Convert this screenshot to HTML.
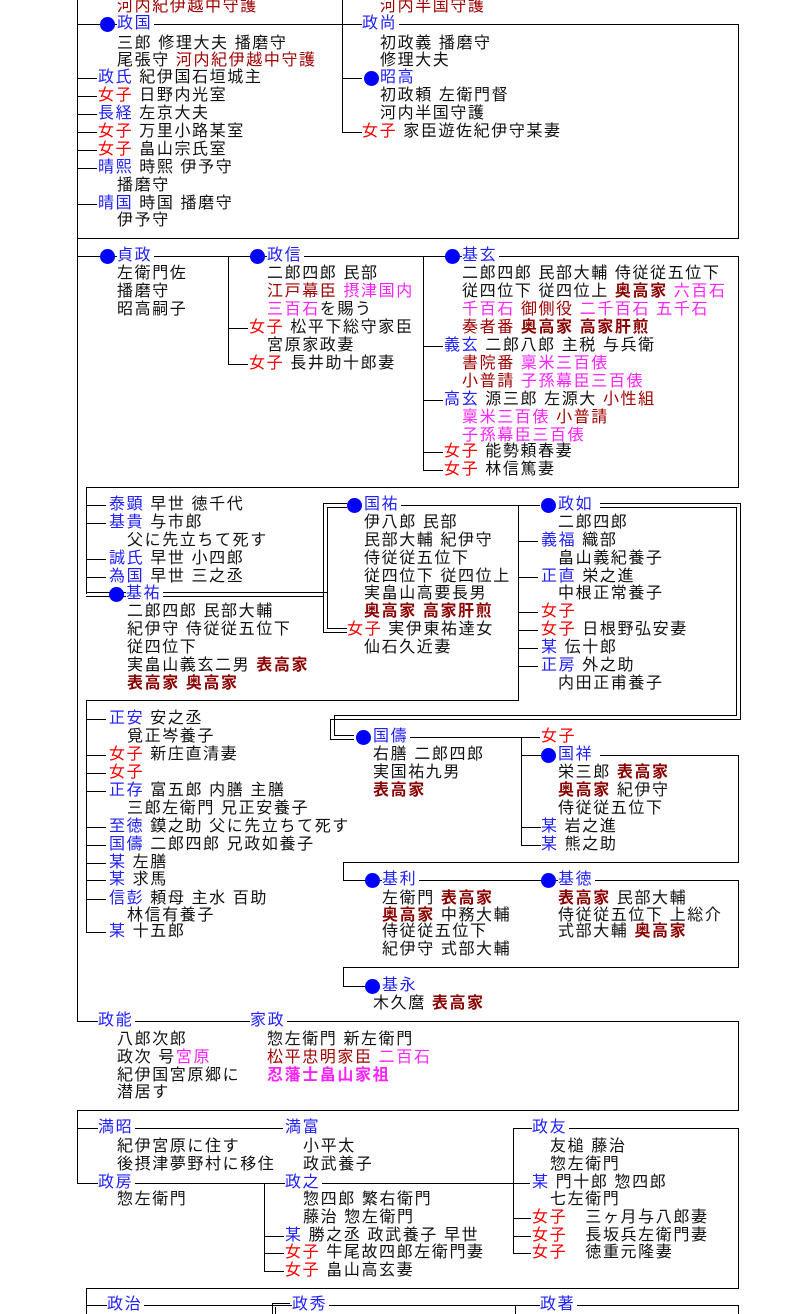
<!DOCTYPE html>
<html><head><meta charset="utf-8"><style>
body{margin:0;width:794px;height:1314px;background:#fff;position:relative;overflow:hidden;font-family:"Liberation Sans","Noto Sans CJK JP",sans-serif;}
.t{position:absolute;white-space:pre;font-size:16px;line-height:18px;height:18px;background:#fff;color:#111;letter-spacing:1.6px;padding-right:2px}
.h{position:absolute;height:1px;background:#000}
.v{position:absolute;width:1px;background:#000}
.o{position:absolute;width:15px;height:15px;border-radius:50%;background:#0000ff}
.b{color:#2020ff}.r{color:#ff0000}.d{color:#a00000}.m{color:#ff22ff}.k{color:#8b0000;font-weight:bold}.km{color:#ff22ff;font-weight:bold}
</style></head><body>
<!-- lines section1 -->
<div class="v" style="left:77px;top:0;height:1021px"></div>
<div class="h" style="left:77px;top:24px;width:661px"></div>
<div class="h" style="left:77px;top:78px;width:20px"></div>
<div class="h" style="left:77px;top:96px;width:20px"></div>
<div class="h" style="left:77px;top:114px;width:20px"></div>
<div class="h" style="left:77px;top:132px;width:20px"></div>
<div class="h" style="left:77px;top:150px;width:20px"></div>
<div class="h" style="left:77px;top:168px;width:20px"></div>
<div class="h" style="left:77px;top:204px;width:20px"></div>
<div class="v" style="left:342px;top:0;height:132px"></div>
<div class="h" style="left:342px;top:78px;width:20px"></div>
<div class="h" style="left:342px;top:132px;width:20px"></div>
<div class="v" style="left:738px;top:24px;height:214px"></div>
<div class="h" style="left:77px;top:238px;width:662px"></div>
<!-- section2 -->
<div class="h" style="left:77px;top:256px;width:661px"></div>
<div class="v" style="left:228px;top:256px;height:108px"></div>
<div class="h" style="left:228px;top:328px;width:20px"></div>
<div class="h" style="left:228px;top:364px;width:20px"></div>
<div class="v" style="left:423px;top:256px;height:214px"></div>
<div class="h" style="left:423px;top:346px;width:20px"></div>
<div class="h" style="left:423px;top:400px;width:20px"></div>
<div class="h" style="left:423px;top:452px;width:20px"></div>
<div class="h" style="left:423px;top:470px;width:20px"></div>
<div class="v" style="left:738px;top:256px;height:231px"></div>
<div class="h" style="left:86px;top:487px;width:653px"></div>
<!-- section3 -->
<div class="v" style="left:86px;top:487px;height:107px"></div>
<div class="h" style="left:86px;top:505px;width:20px"></div>
<div class="h" style="left:86px;top:523px;width:20px"></div>
<div class="h" style="left:86px;top:559px;width:20px"></div>
<div class="h" style="left:86px;top:577px;width:20px"></div>
<div class="h" style="left:86px;top:592px;width:241px"></div>
<div class="h" style="left:86px;top:596px;width:237px"></div>
<div class="v" style="left:323px;top:503px;height:130px"></div>
<div class="v" style="left:327px;top:507px;height:122px"></div>
<div class="h" style="left:323px;top:503px;width:24px"></div>
<div class="h" style="left:327px;top:507px;width:20px"></div>
<div class="h" style="left:327px;top:628px;width:20px"></div>
<div class="h" style="left:323px;top:632px;width:24px"></div>
<div class="h" style="left:400px;top:505px;width:140px"></div>
<div class="v" style="left:518px;top:505px;height:195px"></div>
<div class="h" style="left:86px;top:700px;width:433px"></div>
<div class="h" style="left:518px;top:541px;width:20px"></div>
<div class="h" style="left:518px;top:577px;width:20px"></div>
<div class="h" style="left:518px;top:612px;width:20px"></div>
<div class="h" style="left:518px;top:630px;width:20px"></div>
<div class="h" style="left:518px;top:648px;width:20px"></div>
<div class="h" style="left:518px;top:666px;width:20px"></div>
<div class="h" style="left:600px;top:503px;width:141px"></div>
<div class="h" style="left:600px;top:507px;width:137px"></div>
<div class="v" style="left:740px;top:503px;height:217px"></div>
<div class="v" style="left:736px;top:507px;height:209px"></div>
<div class="h" style="left:330px;top:719px;width:411px"></div>
<div class="h" style="left:334px;top:715px;width:403px"></div>
<div class="v" style="left:330px;top:719px;height:21px"></div>
<div class="v" style="left:334px;top:715px;height:21px"></div>
<div class="h" style="left:334px;top:735px;width:20px"></div>
<div class="h" style="left:330px;top:739px;width:24px"></div>
<!-- section4 -->
<div class="v" style="left:86px;top:700px;height:232px"></div>
<div class="h" style="left:86px;top:719px;width:20px"></div>
<div class="h" style="left:86px;top:755px;width:20px"></div>
<div class="h" style="left:86px;top:773px;width:20px"></div>
<div class="h" style="left:86px;top:791px;width:20px"></div>
<div class="h" style="left:86px;top:827px;width:20px"></div>
<div class="h" style="left:86px;top:845px;width:20px"></div>
<div class="h" style="left:86px;top:863px;width:20px"></div>
<div class="h" style="left:86px;top:880px;width:20px"></div>
<div class="h" style="left:86px;top:899px;width:20px"></div>
<div class="h" style="left:86px;top:932px;width:20px"></div>
<div class="h" style="left:405px;top:737px;width:135px"></div>
<div class="v" style="left:521px;top:737px;height:108px"></div>
<div class="h" style="left:521px;top:755px;width:20px"></div>
<div class="h" style="left:521px;top:827px;width:20px"></div>
<div class="h" style="left:521px;top:845px;width:20px"></div>
<div class="h" style="left:600px;top:755px;width:138px"></div>
<div class="v" style="left:738px;top:755px;height:107px"></div>
<div class="h" style="left:343px;top:862px;width:396px"></div>
<div class="v" style="left:343px;top:862px;height:18px"></div>
<div class="h" style="left:343px;top:880px;width:395px"></div>
<div class="v" style="left:738px;top:880px;height:87px"></div>
<div class="h" style="left:343px;top:967px;width:396px"></div>
<div class="v" style="left:343px;top:967px;height:19px"></div>
<div class="h" style="left:343px;top:986px;width:22px"></div>
<!-- section5 -->
<div class="h" style="left:77px;top:1021px;width:661px"></div>
<div class="v" style="left:738px;top:1021px;height:89px"></div>
<div class="h" style="left:77px;top:1110px;width:662px"></div>
<!-- section6 -->
<div class="v" style="left:77px;top:1110px;height:73px"></div>
<div class="h" style="left:77px;top:1128px;width:206px"></div>
<div class="h" style="left:77px;top:1183px;width:453px"></div>
<div class="v" style="left:264px;top:1183px;height:88px"></div>
<div class="h" style="left:264px;top:1236px;width:20px"></div>
<div class="h" style="left:264px;top:1253px;width:20px"></div>
<div class="h" style="left:264px;top:1271px;width:20px"></div>
<div class="v" style="left:513px;top:1128px;height:125px"></div>
<div class="h" style="left:513px;top:1128px;width:225px"></div>
<div class="h" style="left:513px;top:1218px;width:18px"></div>
<div class="h" style="left:513px;top:1236px;width:18px"></div>
<div class="h" style="left:513px;top:1253px;width:18px"></div>
<div class="v" style="left:738px;top:1128px;height:160px"></div>
<div class="h" style="left:86px;top:1288px;width:653px"></div>
<div class="v" style="left:86px;top:1288px;height:26px"></div>
<div class="h" style="left:86px;top:1305px;width:652px"></div>
<div class="h" style="left:272px;top:1303px;width:18px"></div>
<div class="v" style="left:272px;top:1303px;height:11px"></div>
<div class="v" style="left:275px;top:1307px;height:7px"></div>
<div class="v" style="left:515px;top:1305px;height:9px"></div>
<div class="v" style="left:738px;top:1305px;height:9px"></div>

<!-- dots -->
<div class="o" style="left:100px;top:17px"></div>
<div class="o" style="left:364px;top:71px"></div>
<div class="o" style="left:100px;top:249px"></div>
<div class="o" style="left:250px;top:249px"></div>
<div class="o" style="left:445px;top:249px"></div>
<div class="o" style="left:347px;top:498px"></div>
<div class="o" style="left:541px;top:498px"></div>
<div class="o" style="left:109px;top:587px"></div>
<div class="o" style="left:356px;top:730px"></div>
<div class="o" style="left:541px;top:748px"></div>
<div class="o" style="left:365px;top:873px"></div>
<div class="o" style="left:541px;top:873px"></div>
<div class="o" style="left:365px;top:979px"></div>

<!-- section1 text -->
<div class="t d" style="left:117px;top:-2px">河内紀伊越中守護</div>
<div class="t d" style="left:380px;top:-2px">河内半国守護</div>
<div class="t b" style="left:117px;top:15px">政国</div>
<div class="t b" style="left:362px;top:15px">政尚</div>
<div class="t" style="left:117px;top:35px">三郎 修理大夫 播磨守</div>
<div class="t" style="left:380px;top:35px">初政義 播磨守</div>
<div class="t" style="left:117px;top:52px">尾張守 <span class="d">河内紀伊越中守護</span></div>
<div class="t" style="left:380px;top:52px">修理大夫</div>
<div class="t" style="left:98px;top:69px"><span class="b">政氏</span> 紀伊国石垣城主</div>
<div class="t b" style="left:380px;top:69px">昭高</div>
<div class="t" style="left:98px;top:87px"><span class="r">女子</span> 日野内光室</div>
<div class="t" style="left:380px;top:87px">初政頼 左衛門督</div>
<div class="t" style="left:98px;top:105px"><span class="b">長経</span> 左京大夫</div>
<div class="t" style="left:380px;top:105px">河内半国守護</div>
<div class="t" style="left:98px;top:123px"><span class="r">女子</span> 万里小路某室</div>
<div class="t" style="left:362px;top:123px"><span class="r">女子</span> 家臣遊佐紀伊守某妻</div>
<div class="t" style="left:98px;top:141px"><span class="r">女子</span> 畠山宗氏室</div>
<div class="t" style="left:98px;top:159px"><span class="b">晴熙</span> 時熙 伊予守</div>
<div class="t" style="left:117px;top:177px">播磨守</div>
<div class="t" style="left:98px;top:195px"><span class="b">晴国</span> 時国 播磨守</div>
<div class="t" style="left:117px;top:212px">伊予守</div>

<!-- section2 text -->
<div class="t b" style="left:117px;top:247px">貞政</div>
<div class="t b" style="left:267px;top:247px">政信</div>
<div class="t b" style="left:462px;top:247px">基玄</div>
<div class="t" style="left:117px;top:265px">左衛門佐</div>
<div class="t" style="left:267px;top:265px">二郎四郎 民部</div>
<div class="t" style="left:462px;top:265px">二郎四郎 民部大輔 侍従従五位下</div>
<div class="t" style="left:117px;top:283px">播磨守</div>
<div class="t" style="left:267px;top:283px"><span class="d">江戸幕臣</span> <span class="m">摂津国内</span></div>
<div class="t" style="left:462px;top:283px">従四位下 従四位上 <span class="k">奥高家</span> <span class="m">六百石</span></div>
<div class="t" style="left:117px;top:301px">昭高嗣子</div>
<div class="t" style="left:267px;top:301px"><span class="m">三百石</span>を賜う</div>
<div class="t" style="left:462px;top:301px"><span class="m">千百石</span> <span class="d">御側役</span> <span class="m">二千百石 五千石</span></div>
<div class="t" style="left:249px;top:319px"><span class="r">女子</span> 松平下総守家臣</div>
<div class="t" style="left:462px;top:319px"><span class="d">奏者番</span> <span class="k">奥高家 高家肝煎</span></div>
<div class="t" style="left:267px;top:337px">宮原家政妻</div>
<div class="t" style="left:444px;top:337px"><span class="b">義玄</span> 二郎八郎 主税 与兵衛</div>
<div class="t" style="left:249px;top:355px"><span class="r">女子</span> 長井助十郎妻</div>
<div class="t" style="left:462px;top:355px"><span class="d">書院番</span> <span class="m">稟米三百俵</span></div>
<div class="t" style="left:462px;top:373px"><span class="d">小普請</span> <span class="m">子孫幕臣三百俵</span></div>
<div class="t" style="left:444px;top:391px"><span class="b">高玄</span> 源三郎 左源大 <span class="d">小性組</span></div>
<div class="t" style="left:462px;top:409px"><span class="m">稟米三百俵</span> <span class="d">小普請</span></div>
<div class="t m" style="left:462px;top:427px">子孫幕臣三百俵</div>
<div class="t" style="left:444px;top:443px"><span class="r">女子</span> 能勢頼春妻</div>
<div class="t" style="left:444px;top:461px"><span class="r">女子</span> 林信篤妻</div>

<!-- section3 text -->
<div class="t" style="left:109px;top:496px"><span class="b">泰顕</span> 早世 徳千代</div>
<div class="t b" style="left:364px;top:496px">国祐</div>
<div class="t b" style="left:558px;top:496px">政如</div>
<div class="t" style="left:109px;top:514px"><span class="b">基貴</span> 与市郎</div>
<div class="t" style="left:364px;top:514px">伊八郎 民部</div>
<div class="t" style="left:558px;top:514px">二郎四郎</div>
<div class="t" style="left:127px;top:532px">父に先立ちて死す</div>
<div class="t" style="left:364px;top:532px">民部大輔 紀伊守</div>
<div class="t" style="left:541px;top:532px"><span class="b">義福</span> 織部</div>
<div class="t" style="left:109px;top:550px"><span class="b">誠氏</span> 早世 小四郎</div>
<div class="t" style="left:364px;top:550px">侍従従五位下</div>
<div class="t" style="left:558px;top:550px">畠山義紀養子</div>
<div class="t" style="left:109px;top:568px"><span class="b">為国</span> 早世 三之丞</div>
<div class="t" style="left:364px;top:568px">従四位下 従四位上</div>
<div class="t" style="left:541px;top:568px"><span class="b">正直</span> 栄之進</div>
<div class="t b" style="left:126px;top:585px">基祐</div>
<div class="t" style="left:364px;top:585px">実畠山高要長男</div>
<div class="t" style="left:558px;top:585px">中根正常養子</div>
<div class="t" style="left:127px;top:603px">二郎四郎 民部大輔</div>
<div class="t k" style="left:364px;top:603px">奥高家 高家肝煎</div>
<div class="t r" style="left:541px;top:603px">女子</div>
<div class="t" style="left:127px;top:621px">紀伊守 侍従従五位下</div>
<div class="t" style="left:347px;top:621px"><span class="r">女子</span> 実伊東祐達女</div>
<div class="t" style="left:541px;top:621px"><span class="r">女子</span> 日根野弘安妻</div>
<div class="t" style="left:127px;top:639px">従四位下</div>
<div class="t" style="left:364px;top:639px">仙石久近妻</div>
<div class="t" style="left:541px;top:639px"><span class="b">某</span> 伝十郎</div>
<div class="t" style="left:127px;top:657px">実畠山義玄二男 <span class="k">表高家</span></div>
<div class="t" style="left:541px;top:657px"><span class="b">正房</span> 外之助</div>
<div class="t k" style="left:127px;top:675px">表高家 奥高家</div>
<div class="t" style="left:558px;top:675px">内田正甫養子</div>

<!-- section4 text -->
<div class="t" style="left:109px;top:710px"><span class="b">正安</span> 安之丞</div>
<div class="t" style="left:127px;top:728px">覓正岑養子</div>
<div class="t b" style="left:373px;top:728px">国儔</div>
<div class="t r" style="left:541px;top:728px">女子</div>
<div class="t" style="left:109px;top:746px"><span class="r">女子</span> 新庄直清妻</div>
<div class="t" style="left:373px;top:746px">右膳 二郎四郎</div>
<div class="t b" style="left:558px;top:746px">国祥</div>
<div class="t r" style="left:109px;top:764px">女子</div>
<div class="t" style="left:373px;top:764px">実国祐九男</div>
<div class="t" style="left:558px;top:764px">栄三郎 <span class="k">表高家</span></div>
<div class="t" style="left:109px;top:782px"><span class="b">正存</span> 富五郎 内膳 主膳</div>
<div class="t k" style="left:373px;top:782px">表高家</div>
<div class="t" style="left:558px;top:782px"><span class="k">奥高家</span> 紀伊守</div>
<div class="t" style="left:127px;top:800px">三郎左衛門 兄正安養子</div>
<div class="t" style="left:558px;top:800px">侍従従五位下</div>
<div class="t" style="left:109px;top:818px"><span class="b">至徳</span> 鏌之助 父に先立ちて死す</div>
<div class="t" style="left:541px;top:818px"><span class="b">某</span> 岩之進</div>
<div class="t" style="left:109px;top:836px"><span class="b">国儔</span> 二郎四郎 兄政如養子</div>
<div class="t" style="left:541px;top:836px"><span class="b">某</span> 熊之助</div>
<div class="t" style="left:109px;top:854px"><span class="b">某</span> 左膳</div>
<div class="t" style="left:109px;top:871px"><span class="b">某</span> 求馬</div>
<div class="t b" style="left:382px;top:871px">基利</div>
<div class="t b" style="left:558px;top:871px">基徳</div>
<div class="t" style="left:109px;top:890px"><span class="b">信彭</span> 頼母 主水 百助</div>
<div class="t" style="left:382px;top:890px">左衛門 <span class="k">表高家</span></div>
<div class="t" style="left:558px;top:890px"><span class="k">表高家</span> 民部大輔</div>
<div class="t" style="left:127px;top:907px">林信有養子</div>
<div class="t" style="left:382px;top:907px"><span class="k">奥高家</span> 中務大輔</div>
<div class="t" style="left:558px;top:907px">侍従従五位下 上総介</div>
<div class="t" style="left:109px;top:923px"><span class="b">某</span> 十五郎</div>
<div class="t" style="left:382px;top:923px">侍従従五位下</div>
<div class="t" style="left:558px;top:923px">式部大輔 <span class="k">奥高家</span></div>
<div class="t" style="left:382px;top:941px">紀伊守 式部大輔</div>
<div class="t b" style="left:382px;top:977px">基永</div>
<div class="t" style="left:373px;top:995px">木久麿 <span class="k">表高家</span></div>

<!-- section5 text -->
<div class="t b" style="left:98px;top:1012px">政能</div>
<div class="t b" style="left:250px;top:1012px">家政</div>
<div class="t" style="left:117px;top:1031px">八郎次郎</div>
<div class="t" style="left:267px;top:1031px">惣左衛門 新左衛門</div>
<div class="t" style="left:117px;top:1049px">政次 号<span class="m">宮原</span></div>
<div class="t" style="left:267px;top:1049px"><span class="d">松平忠明家臣</span> <span class="m">二百石</span></div>
<div class="t" style="left:117px;top:1067px">紀伊国宮原郷に</div>
<div class="t km" style="left:267px;top:1067px">忍藩士畠山家祖</div>
<div class="t" style="left:117px;top:1084px">潜居す</div>

<!-- section6 text -->
<div class="t b" style="left:98px;top:1119px">満昭</div>
<div class="t b" style="left:285px;top:1119px">満富</div>
<div class="t b" style="left:532px;top:1119px">政友</div>
<div class="t" style="left:117px;top:1138px">紀伊宮原に住す</div>
<div class="t" style="left:303px;top:1138px">小平太</div>
<div class="t" style="left:550px;top:1138px">友槌 藤治</div>
<div class="t" style="left:117px;top:1156px">後摂津夢野村に移住</div>
<div class="t" style="left:303px;top:1156px">政武養子</div>
<div class="t" style="left:550px;top:1156px">惣左衛門</div>
<div class="t b" style="left:98px;top:1174px">政房</div>
<div class="t b" style="left:285px;top:1174px">政之</div>
<div class="t" style="left:532px;top:1174px"><span class="b">某</span> 門十郎 惣四郎</div>
<div class="t" style="left:117px;top:1191px">惣左衛門</div>
<div class="t" style="left:303px;top:1191px">惣四郎 繁右衛門</div>
<div class="t" style="left:550px;top:1191px">七左衛門</div>
<div class="t" style="left:303px;top:1209px">藤治 惣左衛門</div>
<div class="t" style="left:532px;top:1209px"><span class="r">女子</span>   三ヶ月与八郎妻</div>
<div class="t" style="left:285px;top:1227px"><span class="b">某</span> 勝之丞 政武養子 早世</div>
<div class="t" style="left:532px;top:1227px"><span class="r">女子</span>   長坂兵左衛門妻</div>
<div class="t" style="left:285px;top:1244px"><span class="r">女子</span> 牛尾故四郎左衛門妻</div>
<div class="t" style="left:532px;top:1244px"><span class="r">女子</span>   徳重元隆妻</div>
<div class="t" style="left:285px;top:1262px"><span class="r">女子</span> 畠山高玄妻</div>
<div class="t b" style="left:107px;top:1296px">政治</div>
<div class="t b" style="left:292px;top:1296px">政秀</div>
<div class="t b" style="left:540px;top:1296px">政著</div>
</body></html>
